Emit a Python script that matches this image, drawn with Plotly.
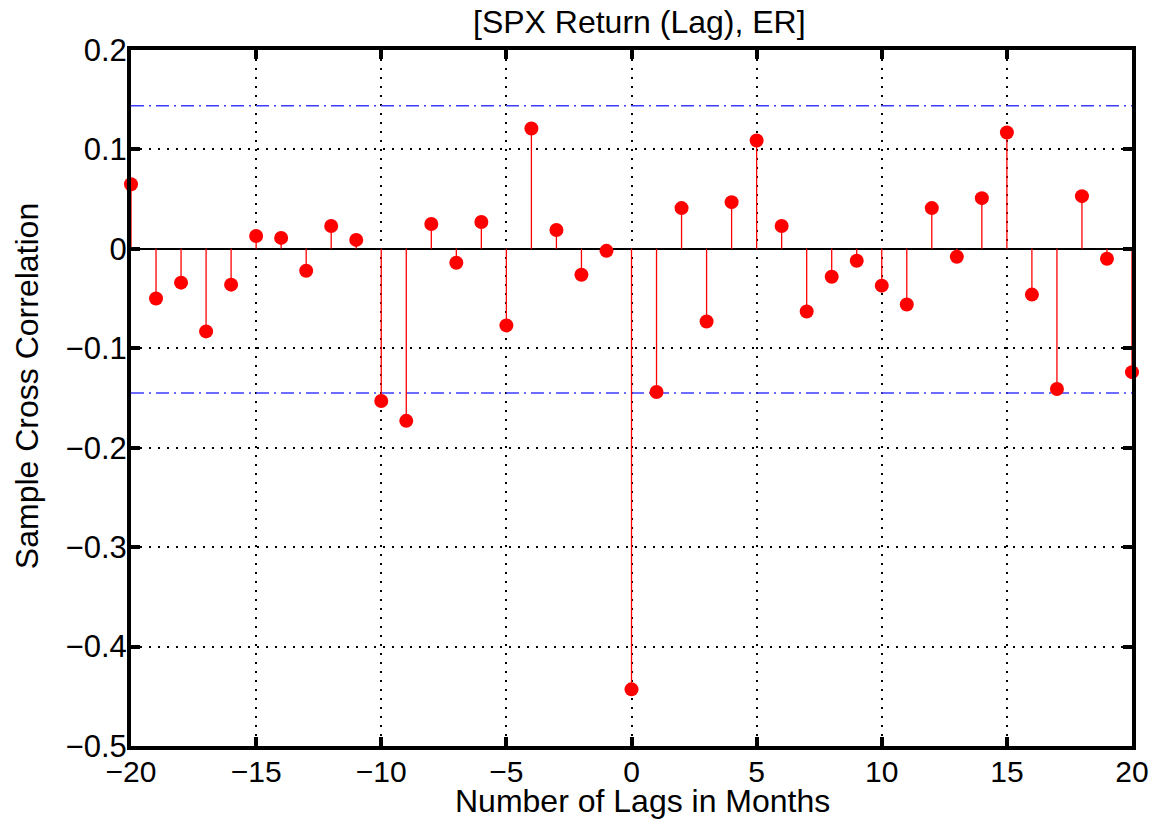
import plotly.graph_objects as go

lags = list(range(-20, 21))
xcf = [0.065, -0.050, -0.034, -0.083, -0.036, 0.013, 0.011, -0.022, 0.023, 0.009,
       -0.153, -0.173, 0.025, -0.014, 0.027, -0.077, 0.121, 0.019, -0.026, -0.002,
       -0.443, -0.144, 0.041, -0.073, 0.047, 0.109, 0.023, -0.063, -0.028, -0.012,
       -0.037, -0.056, 0.041, -0.008, 0.051, 0.117, -0.046, -0.141, 0.053, -0.010,
       -0.124]
bound_upper = 0.144
bound_lower = -0.145

x_ticks = [-20, -15, -10, -5, 0, 5, 10, 15, 20]
y_ticks = [-0.5, -0.4, -0.3, -0.2, -0.1, 0, 0.1, 0.2]

title_text = "[SPX Return (Lag), ER]"
x_title = "Number of Lags in Months"
y_title = "Sample Cross Correlation"


def fmt(v):
    s = f"{v:g}"
    return s.replace("-", "\u2212")


# stems
sx, sy = [], []
for x, y in zip(lags, xcf):
    sx += [x, x, None]
    sy += [0, y, None]

fig = go.Figure()
for b in (bound_upper, bound_lower):
    fig.add_trace(go.Scatter(x=[lags[0], lags[-1]], y=[b, b], mode="lines",
                             line=dict(color="#3c3cff", width=1.4, dash="13px,5px,2px,5px"),
                             showlegend=False, hoverinfo="skip"))
fig.add_trace(go.Scatter(x=sx, y=sy, mode="lines", line=dict(color="red", width=1.3),
                         hoverinfo="skip", showlegend=False))
fig.add_trace(go.Scatter(x=lags, y=xcf, mode="markers",
                         marker=dict(color="red", size=14, line=dict(width=0)),
                         showlegend=False, cliponaxis=False))

font = "Liberation Sans, Arial, Helvetica, sans-serif"
fig.update_layout(
    width=1161, height=820,
    margin=dict(l=131, r=27, t=50, b=74),
    paper_bgcolor="white", plot_bgcolor="white",
    font=dict(family=font, color="black", size=30),
    annotations=[
        dict(text=title_text, xref="paper", yref="paper", x=0.5075, y=1, yshift=28,
             xanchor="center", yanchor="middle", showarrow=False, font=dict(size=32)),
        dict(text=x_title, xref="paper", yref="paper", x=0.5105, y=0, yshift=-55,
             xanchor="center", yanchor="middle", showarrow=False, font=dict(size=32)),
        dict(text=y_title, xref="paper", yref="paper", x=0, xshift=-104, y=0.517,
             xanchor="center", yanchor="middle", textangle=-90, showarrow=False,
             font=dict(size=32)),
    ],
)
fig.update_xaxes(
    range=[-20, 20], tickvals=x_ticks, ticktext=[fmt(v) for v in x_ticks],
    showline=True, linecolor="black", linewidth=4, mirror="allticks",
    ticks="inside", ticklen=9, tickwidth=4, tickcolor="black",
    showgrid=True, gridcolor="black", griddash="2px,7px", gridwidth=1.5,
    zeroline=False, tickfont=dict(size=30), ticklabelstandoff=-4,
)
fig.update_yaxes(
    range=[-0.5, 0.2], tickvals=y_ticks, ticktext=[fmt(v) for v in y_ticks],
    showline=True, linecolor="black", linewidth=4, mirror="allticks",
    ticks="inside", ticklen=9, tickwidth=4, tickcolor="black",
    showgrid=True, gridcolor="black", griddash="2px,7px", gridwidth=1.5,
    zeroline=True, zerolinecolor="black", zerolinewidth=2,
    tickfont=dict(size=31), ticklabelstandoff=-6,
)
fig.write_html("out.html", config={"displayModeBar": False},
               post_script="document.body.style.margin='0';")
